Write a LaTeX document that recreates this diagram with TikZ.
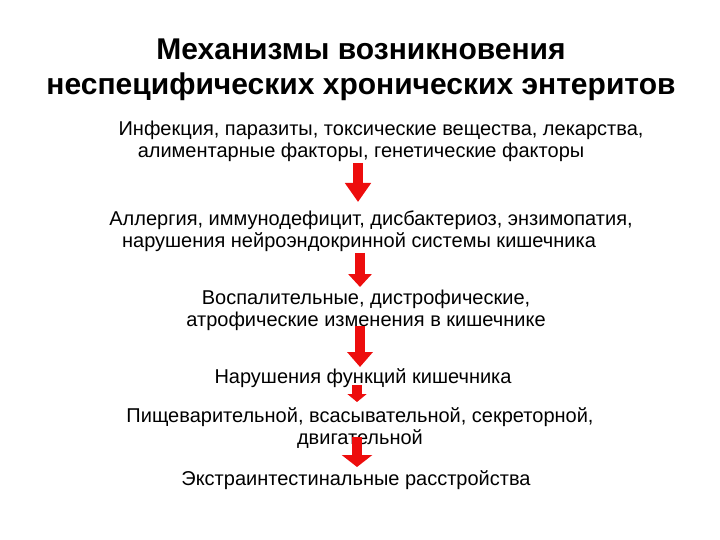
\documentclass[tikz,border=0pt]{standalone}
\usepackage{fontspec}
\setmainfont{Liberation Sans}
\usepackage{tikz}
\usetikzlibrary{positioning}
\usetikzlibrary{arrows.meta}
\definecolor{arrowred}{rgb}{0.93,0.05,0.05}

\begin{document}
\begin{tikzpicture}[
            x = 1bp, y = -1bp, % pixel grid of the slide
            align = center,
            inner sep = 0pt
        ]

        \tikzstyle{every node}=[
            font = \fontsize{20bp}{22bp}\selectfont
        ]
        \tikzstyle{title}=[
            font = \fontsize{30bp}{35bp}\selectfont\bfseries
        ]
        \tikzstyle{redarrow}=[
            color = arrowred,
            line width = 10bp
        ]

        \useasboundingbox (0,0) rectangle (720,540);

	% title
        \node[title] (T) at (361,70) {Механизмы возникновения\\неспецифических хронических энтеритов};

        % causes
        \node (B1) [below of = T, node distance = 71bp] {\hspace*{40bp}Инфекция, паразиты, токсические вещества, лекарства,\\алиментарные факторы, генетические факторы};
        \node (B2) [below of = B1, node distance = 90bp, xshift = -2bp] {\hspace*{24bp}Аллергия, иммунодефицит, дисбактериоз, энзимопатия,\\нарушения нейроэндокринной системы кишечника};
        \node (B3) [below of = B2, node distance = 79bp, xshift = 7bp] {Воспалительные, дистрофические,\\атрофические изменения в кишечнике};

        % consequences
        \node (B4) [below of = B3, node distance = 68bp, xshift = -3bp] {Нарушения функций кишечника};
        \node (B5) [below of = B4, node distance = 50bp, xshift = -3bp] {Пищеварительной, всасывательной, секреторной,\\двигательной};
        \node (B6) [below of = B5, node distance = 52bp, xshift = -4bp] {Экстраинтестинальные расстройства};

        % arrow ends
        \coordinate (A1s) at (358,163);
        \coordinate (A1e) at (358,202);
        \coordinate (A2s) at (360,253);
        \coordinate (A2e) at (360,287);
        \coordinate (A3s) at (360,326);
        \coordinate (A3e) at (360,367);
        \coordinate (A4s) at (357,385);
        \coordinate (A4e) at (357,402);
        \coordinate (A5s) at (357,437);
        \coordinate (A5e) at (357,467);

        \draw[redarrow, -{Triangle[width=25bp, length=19bp]}] (A1s) -- (A1e);
        \draw[redarrow, -{Triangle[width=23bp, length=13bp]}] (A2s) -- (A2e);
        \draw[redarrow, -{Triangle[width=25bp, length=15bp]}] (A3s) -- (A3e);
        \draw[redarrow, -{Triangle[width=19bp, length=8bp]}] (A4s) -- (A4e);
        \draw[redarrow, -{Triangle[width=30bp, length=12bp]}] (A5s) -- (A5e);

  \end{tikzpicture}
\end{document}
